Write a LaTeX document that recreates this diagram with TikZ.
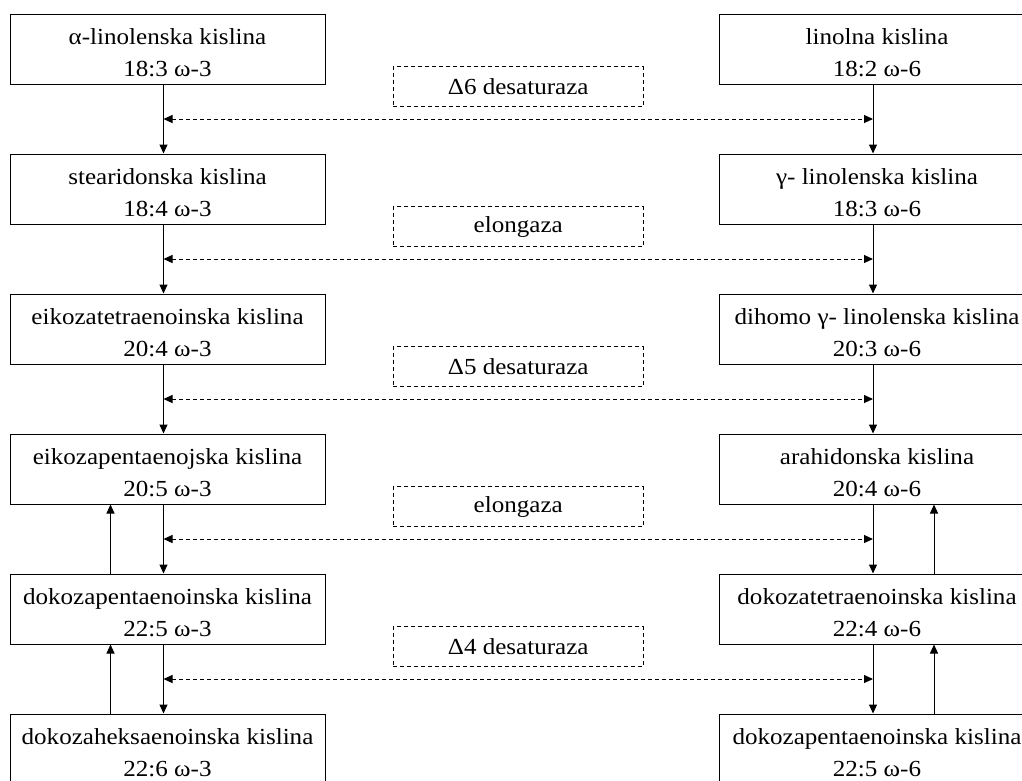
\documentclass[tikz,border=0pt]{standalone}
\usepackage{fontspec}
\setmainfont{Liberation Serif}[FakeStretch=1.09]
\usetikzlibrary{arrows.meta,positioning,calc}
\tikzset{
  acid/.style={draw,minimum width=315pt,minimum height=70pt,inner sep=0pt,
               align=center,font=\fontsize{23}{32}\selectfont,text height=56pt},
  enzyme/.style={draw,dash pattern=on 4pt off 3pt,minimum width=250pt,
                 minimum height=40pt,inner sep=0pt,font=\fontsize{23}{26}\selectfont},
  conv/.style={<->,dash pattern=on 4pt off 3pt}
}

\begin{document}
\begin{tikzpicture}[x=1pt,y=1pt,->,>={Triangle[length=9pt,width=8pt]},
                    line width=1pt,node distance=140pt]
  \clip (0,0) rectangle (1022,-780);

  % omega-3 (left)
  \node[acid] (l1) at (167.5,-49) {α-linolenska kislina\\18:3 ω-3};
  \node[acid] (l2) [below of=l1] {stearidonska kislina\\18:4 ω-3};
  \node[acid] (l3) [below of=l2] {eikozatetraenoinska kislina\\20:4 ω-3};
  \node[acid] (l4) [below of=l3] {eikozapentaenojska kislina\\20:5 ω-3};
  \node[acid] (l5) [below of=l4] {dokozapentaenoinska kislina\\22:5 ω-3};
  \node[acid] (l6) [below of=l5] {dokozaheksaenoinska kislina\\22:6 ω-3};

  % omega-6 (right)
  \node[acid] (r1) at (877,-49) {linolna kislina\\18:2 ω-6};
  \node[acid] (r2) [below of=r1] {γ- linolenska kislina\\18:3 ω-6};
  \node[acid] (r3) [below of=r2] {dihomo γ- linolenska kislina\\20:3 ω-6};
  \node[acid] (r4) [below of=r3] {arahidonska kislina\\20:4 ω-6};
  \node[acid] (r5) [below of=r4] {dokozatetraenoinska kislina\\22:4 ω-6};
  \node[acid] (r6) [below of=r5] {dokozapentaenoinska kislina\\22:5 ω-6};

  \foreach \i/\j/\enz in {1/2/{Δ6 desaturaza},2/3/elongaza,3/4/{Δ5 desaturaza},
                          4/5/elongaza,5/6/{Δ4 desaturaza}} {
    \draw ([xshift=-4pt]l\i.south) -- ([xshift=-4pt]l\j.north);
    \draw ([xshift=-4pt]r\i.south) -- ([xshift=-4pt]r\j.north);
    \coordinate (cl\i) at ($([xshift=-4pt]l\i.south)!0.5!([xshift=-4pt]l\j.north)$);
    \coordinate (cr\i) at ($([xshift=-4pt]r\i.south)!0.5!([xshift=-4pt]r\j.north)$);
    \draw[conv] (cl\i) -- (cr\i) node[midway,above=12pt,enzyme] {\enz};
  }

  % retroconversion
  \draw ([xshift=-57pt]l5.north) -- ([xshift=-57pt]l4.south);
  \draw ([xshift=-57pt]l6.north) -- ([xshift=-57pt]l5.south);
  \draw ([xshift=57pt]r5.north) -- ([xshift=57pt]r4.south);
  \draw ([xshift=57pt]r6.north) -- ([xshift=57pt]r5.south);
\end{tikzpicture}
\end{document}
